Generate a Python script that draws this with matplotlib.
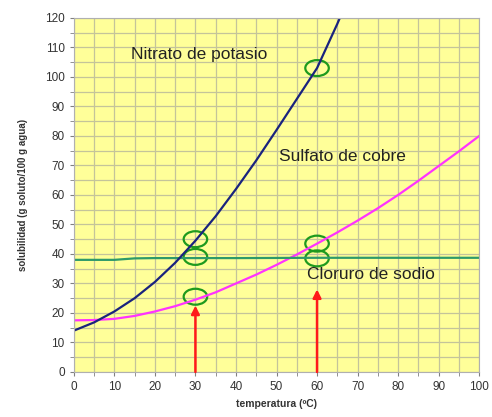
import matplotlib.pyplot as plt
from matplotlib.patches import Ellipse

plt.rcParams["font.family"] = ["Liberation Sans", "DejaVu Sans"]

# datos
temp_kno3 = [0, 5, 10, 15, 20, 25, 30, 35, 40, 45, 50, 55, 60, 65, 70]
sol_kno3 = [14, 16.8, 20.5, 25, 30.5, 37, 44.5, 52.8, 62, 71.7, 82, 92.5, 103, 118, 134]

temp_cuso4 = [0, 5, 10, 15, 20, 25, 30, 35, 40, 45, 50, 55, 60, 65, 70, 75, 80, 85, 90, 95, 100]
sol_cuso4 = [17.5, 17.6, 18, 19, 20.5, 22.3, 24.5, 27, 30, 33, 36.3, 39.8, 43.5, 47.3, 51.3,
             55.5, 60, 64.8, 69.8, 74.8, 80]

temp_nacl = [0, 10, 15, 20, 40, 60, 80, 100]
sol_nacl = [38, 38, 38.5, 38.6, 38.6, 38.7, 38.7, 38.7]

# circulos marcados
circ_x = [30, 30, 30, 60, 60, 60]
circ_y = [45, 39, 25.5, 103, 43.5, 38.5]

# flechas (x, altura de la punta)
arrow_x = [30, 60]
arrow_tip = [22.5, 28]

fig = plt.figure(figsize=(4.92, 4.17), dpi=100)
ax = fig.add_axes([0.150, 0.108, 0.824, 0.849])
ax.set_facecolor("#ffff99")

ax.set_xlim(0, 100)
ax.set_ylim(0, 120)
ax.set_xticks(range(0, 101, 10))
ax.set_yticks(range(0, 121, 10))
ax.set_xticks(range(0, 101, 5), minor=True)
ax.set_yticks(range(0, 121, 5), minor=True)
ax.grid(True, which="both", color="#c4c49a", linewidth=0.9)
ax.set_axisbelow(True)
for s in ax.spines.values():
    s.set_color("#b0b0b0")
ax.tick_params(which="both", length=3, color="#808080", labelsize=8.5, labelcolor="#333333")

ax.plot(temp_cuso4, sol_cuso4, color="#ff33ff", lw=1.6)
ax.plot(temp_nacl, sol_nacl, color="#2e9a6a", lw=1.6)
ax.plot(temp_kno3, sol_kno3, color="#1a237e", lw=1.6)

for x, y in zip(circ_x, circ_y):
    ax.add_patch(Ellipse((x, y), 5.8, 5.4, fill=False, edgecolor="#1e9a1e", lw=1.6))

for x, t in zip(arrow_x, arrow_tip):
    ax.annotate("", xy=(x, t), xytext=(x, 0),
                arrowprops=dict(arrowstyle="-|>", color="#ff1a1a", lw=1.8,
                                mutation_scale=12, shrinkA=0, shrinkB=0))

ax.text(14, 107.5, "Nitrato de potasio", fontsize=12.5, color="#222222", va="center")
ax.text(50.5, 73, "Sulfato de cobre", fontsize=12.5, color="#222222", va="center")
ax.text(57.5, 33, "Cloruro de sodio", fontsize=12.5, color="#222222", va="center")

ax.set_xlabel("temperatura (ºC)", fontsize=7.5, fontweight="bold", color="#333333")
ax.set_ylabel("solubilidad (g soluto/100 g agua)", fontsize=7, fontweight="bold",
              color="#333333", labelpad=12)

fig.savefig("out.png", dpi=100)
